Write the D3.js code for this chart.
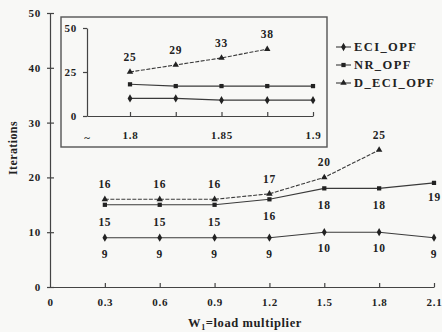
<!DOCTYPE html>
<html>
<head>
<meta charset="utf-8">
<script src="https://cdn.jsdelivr.net/npm/d3@7"></script>
<style>
  html, body { margin: 0; padding: 0; background: #f8f8f6; }
  svg { display: block; }
  text { font-family: 'Liberation Serif', 'DejaVu Serif', serif; font-weight: bold; fill: #222; }
  .axis path, .axis line { stroke: #444; stroke-width: 1.2; }
  .num { letter-spacing: 0.7px; }
</style>
</head>
<body>
<svg class="canvas" width="442" height="332"></svg>
<script>
'use strict'

// Main chart data
const loadMult = [0.3, 0.6, 0.9, 1.2, 1.5, 1.8, 2.1]
const eciOpf = [9, 9, 9, 9, 10, 10, 9]
const nrOpf = [15, 15, 15, 16, 18, 18, 19]
const dEciOpf = [16, 16, 16, 17, 20, 25]
const mainXTicks = [0, 0.3, 0.6, 0.9, 1.2, 1.5, 1.8, 2.1]
const mainYTicks = [0, 10, 20, 30, 40, 50]

// Inset data
const insetMult = [1.8, 1.825, 1.85, 1.875, 1.9]
const insetEci = [10, 10, 9, 9, 9]
const insetNr = [18, 17, 17, 17, 17]
const insetDEci = [25, 29, 33, 38]
const insetXLabels = [1.8, 1.85, 1.9]
const insetYTicks = [0, 25, 50]

const seriesNames = ['ECI_OPF', 'NR_OPF', 'D_ECI_OPF']

const svg = d3.select('.canvas')
const lineColor = '#3a3a3a'
const symbols = [d3.symbolDiamond, d3.symbolSquare, d3.symbolTriangle]
const symbolSizes = [20, 18, 18]

// Scales
const x = d3.scaleLinear().domain([0, 2.1]).range([50, 434]),
  y = d3.scaleLinear().domain([0, 50]).range([287, 13])

// Axes
svg
  .append('g')
  .attr('class', 'axis')
  .attr('transform', `translate(0, ${y(0)})`)
  .call(
    d3.axisBottom(x)
      .tickValues(mainXTicks)
      .tickSizeInner(-4)
      .tickSizeOuter(0)
      .tickPadding(11)
      .tickFormat(d => (d === 0 ? '0' : d.toFixed(1)))
  )
  .call(g => g.selectAll('text').attr('class', 'num').style('font-size', '11px'))
  .call(g => g.selectAll('.tick line').filter(d => d === 0).remove())

svg
  .append('g')
  .attr('class', 'axis')
  .attr('transform', `translate(${x(0)}, 0)`)
  .call(
    d3.axisLeft(y)
      .tickValues(mainYTicks)
      .tickSizeInner(4)
      .tickSizeOuter(0)
      .tickPadding(5)
  )
  .call(g => g.selectAll('text').attr('class', 'num').style('font-size', '11px'))
  .call(g => g.selectAll('.tick line').attr('x2', 4).attr('x1', -3))

svg
  .append('text')
  .attr('x', 245)
  .attr('y', 327)
  .attr('text-anchor', 'middle')
  .style('font-size', '12.5px')
  .style('letter-spacing', '0.6px')
  .text('W')
  .append('tspan')
  .attr('dy', 3)
  .style('font-size', '8px')
  .text('1')
  .append('tspan')
  .attr('dy', -3)
  .style('font-size', '12.5px')
  .text('=load multiplier')

svg
  .append('text')
  .attr('transform', 'translate(17, 148) rotate(-90)')
  .attr('text-anchor', 'middle')
  .style('font-size', '12px')
  .style('letter-spacing', '0.4px')
  .text('Iterations')

// Series drawing helper
function drawSeries(g, xs, ys, xScale, yScale, idx) {
  const pts = ys.map((v, i) => [xs[i], v])
  g.append('path')
    .datum(pts)
    .attr('fill', 'none')
    .attr('stroke', lineColor)
    .attr('stroke-width', 1.1)
    .attr('stroke-dasharray', idx === 2 ? '4,1.5' : null)
    .attr(
      'd',
      d3.line()
        .x(d => xScale(d[0]))
        .y(d => yScale(d[1]))
    )
  g.selectAll(null)
    .data(pts)
    .enter()
    .append('path')
    .attr('transform', d => `translate(${xScale(d[0])}, ${yScale(d[1])})`)
    .attr('d', d3.symbol().type(symbols[idx]).size(symbolSizes[idx]))
    .attr('fill', '#222')
}

function drawLabels(g, xs, ys, xScale, yScale, dy, size) {
  g.selectAll(null)
    .data(ys)
    .enter()
    .append('text')
    .attr('class', 'num')
    .attr('x', (d, i) => xScale(xs[i]))
    .attr('y', d => yScale(d) + dy)
    .attr('text-anchor', 'middle')
    .attr('dominant-baseline', 'central')
    .style('font-size', size)
    .text(d => d)
}

const main = svg.append('g')
drawSeries(main, loadMult, eciOpf, x, y, 0)
drawSeries(main, loadMult, nrOpf, x, y, 1)
drawSeries(main, loadMult, dEciOpf, x, y, 2)
drawLabels(main, loadMult, eciOpf, x, y, 16, '11.5px')
drawLabels(main, loadMult.slice(0, 6), nrOpf.slice(0, 6), x, y, 17, '11.5px')
drawLabels(main, loadMult, dEciOpf, x, y, -15, '11.5px')
// last NR label sits to the right of its point, at the edge
main
  .append('text')
  .attr('class', 'num')
  .attr('x', 441)
  .attr('y', y(nrOpf[6]) + 14)
  .attr('text-anchor', 'end')
  .attr('dominant-baseline', 'central')
  .style('font-size', '11.5px')
  .text(nrOpf[6])

// Inset
svg
  .append('rect')
  .attr('x', 61)
  .attr('y', 17)
  .attr('width', 266)
  .attr('height', 130)
  .attr('fill', 'none')
  .attr('stroke', '#555')
  .attr('stroke-width', 1.4)

const xi = d3.scaleLinear().domain([1.7765, 1.9]).range([87, 313]),
  yi = d3.scaleLinear().domain([0, 50]).range([116, 28])

svg
  .append('g')
  .attr('class', 'axis')
  .attr('transform', `translate(0, ${yi(0)})`)
  .call(
    d3.axisBottom(xi)
      .tickValues(insetMult)
      .tickSizeInner(-4)
      .tickSizeOuter(0)
      .tickPadding(15)
      .tickFormat(d => (insetXLabels.includes(d) ? String(d) : ''))
  )
  .call(g => g.selectAll('text').attr('class', 'num').style('font-size', '11px'))

svg
  .append('text')
  .attr('x', xi(1.7765))
  .attr('y', yi(0) + 21)
  .attr('text-anchor', 'middle')
  .attr('dominant-baseline', 'central')
  .style('font-size', '11px')
  .text('~')

svg
  .append('g')
  .attr('class', 'axis')
  .attr('transform', `translate(${xi(1.7765)}, 0)`)
  .call(
    d3.axisLeft(yi)
      .tickValues(insetYTicks)
      .tickSizeInner(4)
      .tickSizeOuter(0)
      .tickPadding(6)
  )
  .call(g => g.selectAll('text').attr('class', 'num').style('font-size', '11px'))

const inset = svg.append('g')
drawSeries(inset, insetMult, insetEci, xi, yi, 0)
drawSeries(inset, insetMult, insetNr, xi, yi, 1)
drawSeries(inset, insetMult, insetDEci, xi, yi, 2)
drawLabels(inset, insetMult, insetDEci, xi, yi, -15, '11.5px')

// Legend
const legend = svg
  .append('g')
  .selectAll('g')
  .data(seriesNames)
  .enter()
  .append('g')
  .attr('transform', (d, i) => `translate(336, ${47 + i * 18})`)

legend
  .append('line')
  .attr('x1', 0)
  .attr('x2', 15)
  .attr('stroke', lineColor)
  .attr('stroke-width', 1.1)
legend
  .append('path')
  .attr('transform', 'translate(7.5, 0)')
  .attr('d', (d, i) => d3.symbol().type(symbols[i]).size(symbolSizes[i])())
  .attr('fill', '#222')
legend
  .append('text')
  .attr('x', 18)
  .attr('dy', '0.35em')
  .style('font-size', '12.5px')
  .style('letter-spacing', '1.4px')
  .text(d => d)
</script>
</body>
</html>
